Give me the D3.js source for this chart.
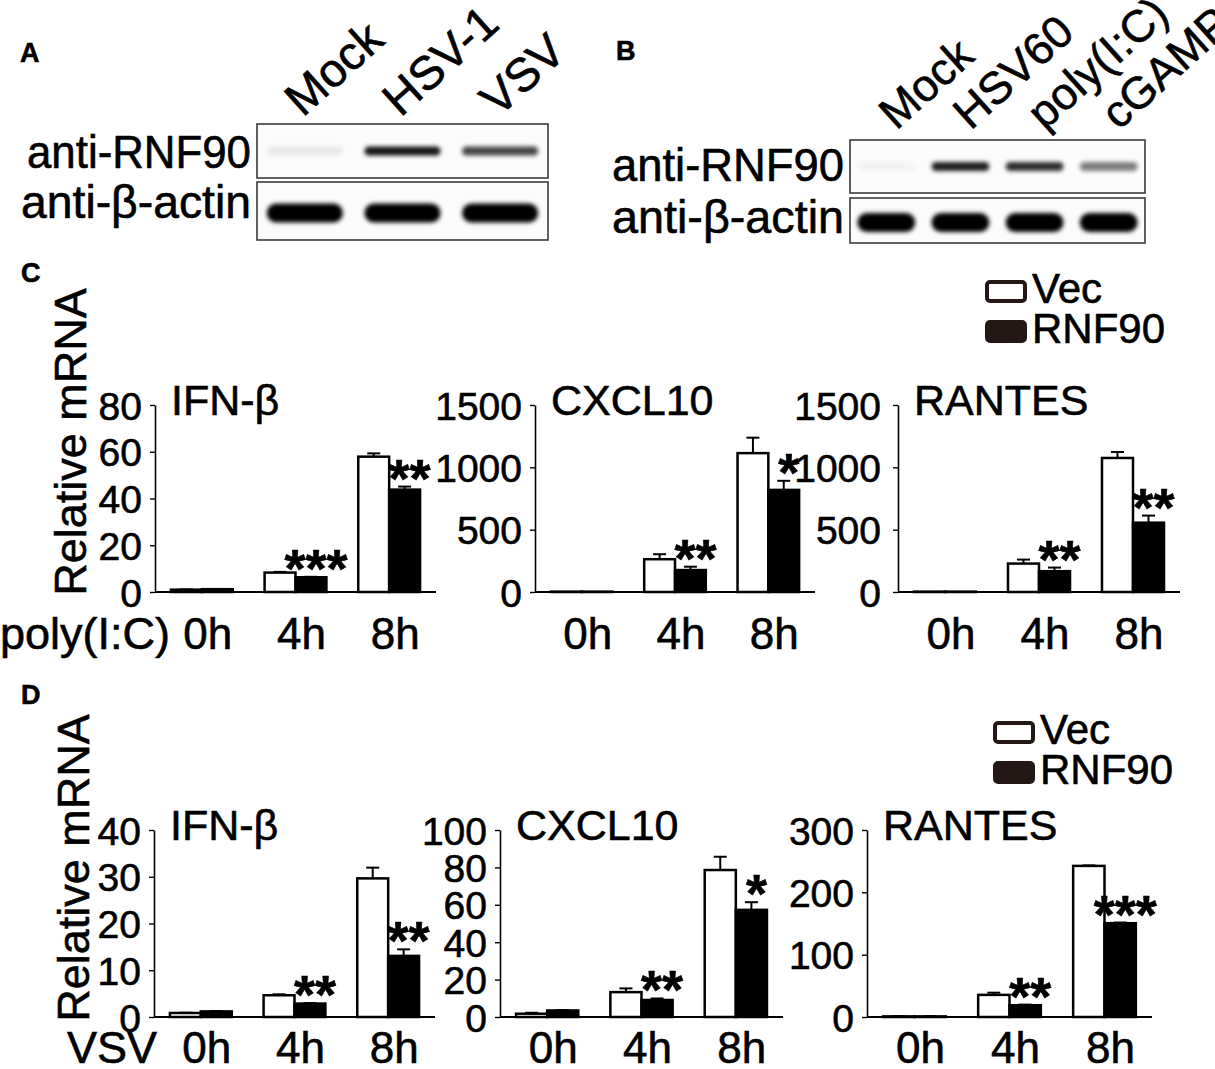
<!DOCTYPE html>
<html>
<head>
<meta charset="utf-8">
<script src="https://cdn.jsdelivr.net/npm/d3@7"></script>
<style>
  body { margin: 0; background: #fff; }
  svg { display: block; font-family: Arial, "Liberation Sans", sans-serif; }
  svg text { fill: #000; stroke: #000; stroke-width: 0.6px; }
</style>
</head>
<body>
<div id="fig"></div>
<script>
const width = 1215;
const height = 1069;

// Western blot lanes and band intensities (0-1)
const lanesA = ["Mock", "HSV-1", "VSV"];
const rnf90A = [0.07, 0.92, 0.72];
const actinA = [1, 1, 1];
const lanesB = ["Mock", "HSV60", "poly(I:C)", "cGAMP"];
const rnf90B = [0.03, 0.88, 0.82, 0.5];
const actinB = [1, 1, 1, 1];

// qPCR
const times = ["0h", "4h", "8h"];
const groups = ["Vec", "RNF90"];

// C: poly(I:C)
const cIfnVec = [1.0, 8.3, 57.9], cIfnVecErr = [0.1, 0.3, 1.4];
const cIfnRnf = [1.2, 6.3, 43.8], cIfnRnfErr = [0.1, 0.2, 1.3];
const cIfnStars = ["", "***", "**"];
const cCxclVec = [3, 263, 1114], cCxclVecErr = [0, 40, 124];
const cCxclRnf = [3, 176, 819], cCxclRnfErr = [0, 27, 73];
const cCxclStars = ["", "**", "*"];
const cRantVec = [3, 228, 1075], cRantVecErr = [0, 32, 48];
const cRantRnf = [3, 167, 556], cRantRnfErr = [0, 29, 57];
const cRantStars = ["", "**", "**"];

// D: VSV
const dIfnVec = [0.86, 4.65, 29.65], dIfnVecErr = [0.05, 0.2, 2.3];
const dIfnRnf = [1.2, 2.87, 13.07], dIfnRnfErr = [0.05, 0.1, 1.4];
const dIfnStars = ["", "**", "**"];
const dCxclVec = [1.76, 13.3, 78.6], dCxclVecErr = [0.5, 2, 7.1];
const dCxclRnf = [3.5, 9.1, 57.3], dCxclRnfErr = [0.2, 0.8, 4.1];
const dCxclStars = ["", "**", "*"];
const dRantVec = [1, 35.5, 242.4], dRantVecErr = [0.3, 3.5, 0.8];
const dRantRnf = [1, 18.9, 150.5], dRantRnfErr = [0.3, 1, 1];
const dRantStars = ["", "**", "***"];

const ticksIfnC = [0, 20, 40, 60, 80];
const ticks1500 = [0, 500, 1000, 1500];
const ticksIfnD = [0, 10, 20, 30, 40];
const ticksCxclD = [0, 20, 40, 60, 80, 100];
const ticksRantD = [0, 100, 200, 300];

const ink = "#231815";

const svg = d3.select("#fig").append("svg")
    .attr("viewBox", [0, 0, width, height])
    .attr("width", width)
    .attr("height", height);

const defs = svg.append("defs");
defs.append("filter").attr("id", "blur")
    .attr("x", "-20%").attr("y", "-60%").attr("width", "140%").attr("height", "220%")
  .append("feGaussianBlur").attr("stdDeviation", 2.2);

// Panel letters
const letters = [["A", 20, 62], ["B", 616, 60], ["C", 21, 282], ["D", 21, 704]];
svg.selectAll("text.panel")
  .data(letters)
  .join("text")
    .attr("class", "panel")
    .attr("x", d => d[1])
    .attr("y", d => d[2])
    .attr("font-size", 27)
    .attr("font-weight", "bold")
    .text(d => d[0]);

// ---- Blots ----
function blot(lanes, rnf, actin, o) {
  const g = svg.append("g");
  const x = d3.scaleBand(lanes, [o.x0, o.x1]).paddingInner(0.22).paddingOuter(0.1);
  const rows = [
    {label: "anti-RNF90", y0: o.r0, y1: o.r1, vals: rnf, th: 9, base: o.rl, tl: o.tl1},
    {label: "anti-\u03b2-actin", y0: o.a0, y1: o.a1, vals: actin, th: 19, base: o.al, tl: o.tl2}
  ];
  rows.forEach(r => {
    g.append("rect")
      .attr("x", o.x0).attr("y", r.y0)
      .attr("width", o.x1 - o.x0).attr("height", r.y1 - r.y0)
      .attr("fill", "#fbfbfb").attr("stroke", "#3a3a3a").attr("stroke-width", 1.6);
    const cy = (r.y0 + r.y1) / 2 + (r.th > 10 ? 2 : 0);
    g.append("g").attr("filter", "url(#blur)")
      .selectAll("rect")
      .data(r.vals)
      .join("rect")
        .attr("x", (d, i) => x(lanes[i]))
        .attr("y", cy - r.th / 2)
        .attr("width", x.bandwidth())
        .attr("height", r.th)
        .attr("rx", r.th / 2)
        .attr("fill", "#000")
        .attr("fill-opacity", d => d);
    g.append("text")
      .attr("x", o.x0 - 6).attr("y", r.base)
      .attr("text-anchor", "end")
      .attr("font-size", 46)
      .attr("textLength", r.tl)
      .attr("lengthAdjust", "spacingAndGlyphs")
      .text(r.label);
  });
  g.selectAll("text.lane")
    .data(lanes)
    .join("text")
      .attr("class", "lane")
      .attr("font-size", o.fs)
      .attr("transform", d => `translate(${x(d) + x.bandwidth() / 2 - o.off},${o.ly}) rotate(-42)`)
      .text(d => d);
}

blot(lanesA, rnf90A, actinA, {x0: 257, x1: 548, r0: 124, r1: 178, a0: 182, a1: 240,
  rl: 168, al: 218, tl1: 224, tl2: 230, ly: 118, off: 2, fs: 47});
blot(lanesB, rnf90B, actinB, {x0: 850, x1: 1145, r0: 140, r1: 193, a0: 198, a1: 243,
  rl: 181, al: 233, tl1: 232, tl2: 232, ly: 131, off: -10, fs: 45});

// ---- Bar charts ----
function chart(o) {
  const g = svg.append("g");
  const x = d3.scaleBand(times, [o.x0, o.x1]).paddingInner(0.34).paddingOuter(0.17);
  const xs = d3.scaleBand(groups, [0, x.bandwidth()]);
  const y = d3.scaleLinear([0, o.max], [o.yb, o.yt]);

  const rows = times.map((t, i) => [
    {t, k: "Vec", v: o.vec[i], e: o.vecErr[i]},
    {t, k: "RNF90", v: o.rnf[i], e: o.rnfErr[i], star: o.stars[i]}
  ]).flat();

  // error bars (upper only)
  const eb = g.append("g").attr("stroke", "#000").attr("stroke-width", 2);
  rows.filter(d => d.e > 0).forEach(d => {
    const cx = x(d.t) + xs(d.k) + xs.bandwidth() / 2;
    eb.append("line").attr("x1", cx).attr("x2", cx).attr("y1", y(d.v)).attr("y2", y(d.v + d.e));
    eb.append("line").attr("x1", cx - 6.5).attr("x2", cx + 6.5).attr("y1", y(d.v + d.e)).attr("y2", y(d.v + d.e));
  });

  g.append("g").selectAll("rect")
    .data(rows)
    .join("rect")
      .attr("x", d => x(d.t) + xs(d.k))
      .attr("y", d => y(d.v))
      .attr("width", xs.bandwidth())
      .attr("height", d => y(0) - y(d.v))
      .attr("fill", d => d.k === "Vec" ? "#fff" : "#000")
      .attr("stroke", "#000")
      .attr("stroke-width", 2.5);

  // x axis line
  g.append("line")
    .attr("x1", o.x0).attr("x2", o.x1)
    .attr("y1", y(0)).attr("y2", y(0))
    .attr("stroke", "#000").attr("stroke-width", 2);

  // y axis
  const ya = g.append("g")
    .attr("transform", `translate(${o.x0},0)`)
    .call(d3.axisLeft(y).tickValues(o.ticks).tickFormat(d3.format("d"))
      .tickSize(5).tickSizeOuter(0).tickPadding(o.pad || 8));
  ya.attr("font-family", null).attr("font-size", null);
  ya.select(".domain").attr("stroke-width", 1.6);
  ya.selectAll(".tick line").attr("stroke-width", 1.4);
  ya.selectAll(".tick text").attr("font-size", 39).attr("dy", "0.36em");

  // category labels
  g.selectAll("text.cat")
    .data(times)
    .join("text")
      .attr("class", "cat")
      .attr("x", d => x(d) + x.bandwidth() / 2 + 6)
      .attr("y", o.lab)
      .attr("text-anchor", "middle")
      .attr("font-size", 44)
      .text(d => d);

  // significance
  g.selectAll("text.star")
    .data(rows.filter(d => d.star))
    .join("text")
      .attr("class", "star")
      .attr("x", d => x(d.t) + xs(d.k) + xs.bandwidth() / 2 + 5)
      .attr("y", d => y(d.v + d.e) + 10)
      .attr("text-anchor", "middle")
      .attr("font-size", 54)
      .attr("font-weight", "bold")
      .text(d => d.star);

  // title
  g.append("text")
    .attr("x", o.x0 + 16).attr("y", o.yt + 10)
    .attr("font-size", 43)
    .text(o.title);
}

const rowC = {yt: 405, yb: 592, lab: 649};
const rowD = {yt: 830, yb: 1017, lab: 1063};

chart({...rowC, x0: 155, x1: 436, max: 80, ticks: ticksIfnC, title: "IFN-\u03b2",
  vec: cIfnVec, vecErr: cIfnVecErr, rnf: cIfnRnf, rnfErr: cIfnRnfErr, stars: cIfnStars});
chart({...rowC, x0: 535, x1: 815, max: 1500, ticks: ticks1500, title: "CXCL10",
  vec: cCxclVec, vecErr: cCxclVecErr, rnf: cCxclRnf, rnfErr: cCxclRnfErr, stars: cCxclStars});
chart({...rowC, x0: 898, x1: 1180, max: 1500, ticks: ticks1500, title: "RANTES", pad: 12,
  vec: cRantVec, vecErr: cRantVecErr, rnf: cRantRnf, rnfErr: cRantRnfErr, stars: cRantStars});

chart({...rowD, x0: 154, x1: 435, max: 40, ticks: ticksIfnD, title: "IFN-\u03b2",
  vec: dIfnVec, vecErr: dIfnVecErr, rnf: dIfnRnf, rnfErr: dIfnRnfErr, stars: dIfnStars});
chart({...rowD, x0: 500, x1: 783, max: 100, ticks: ticksCxclD, title: "CXCL10",
  vec: dCxclVec, vecErr: dCxclVecErr, rnf: dCxclRnf, rnfErr: dCxclRnfErr, stars: dCxclStars});
chart({...rowD, x0: 867, x1: 1152, max: 300, ticks: ticksRantD, title: "RANTES",
  vec: dRantVec, vecErr: dRantVecErr, rnf: dRantRnf, rnfErr: dRantRnfErr, stars: dRantStars});

// y titles and treatment labels
[[86, 442], [89, 868]].forEach(p => {
  svg.append("text")
    .attr("transform", `translate(${p[0]},${p[1]}) rotate(-90)`)
    .attr("text-anchor", "middle")
    .attr("font-size", 45)
    .text("Relative mRNA");
});
svg.append("text").attr("x", 0).attr("y", 649).attr("font-size", 45).text("poly(I:C)");
svg.append("text").attr("x", 67).attr("y", 1063).attr("font-size", 45).text("VSV");

// legends
function legend(x0, y0) {
  const g = svg.append("g");
  groups.forEach((k, i) => {
    const yy = y0 + i * 40;
    g.append("rect")
      .attr("x", x0 + 2).attr("y", yy + 2)
      .attr("width", 38).attr("height", 19).attr("rx", 3)
      .attr("fill", k === "Vec" ? "#fff" : ink)
      .attr("stroke", ink).attr("stroke-width", 4);
    g.append("text")
      .attr("x", x0 + 47).attr("y", yy + 23)
      .attr("font-size", 42)
      .text(k);
  });
}
legend(985, 280);
legend(993, 721);
</script>
</body>
</html>
